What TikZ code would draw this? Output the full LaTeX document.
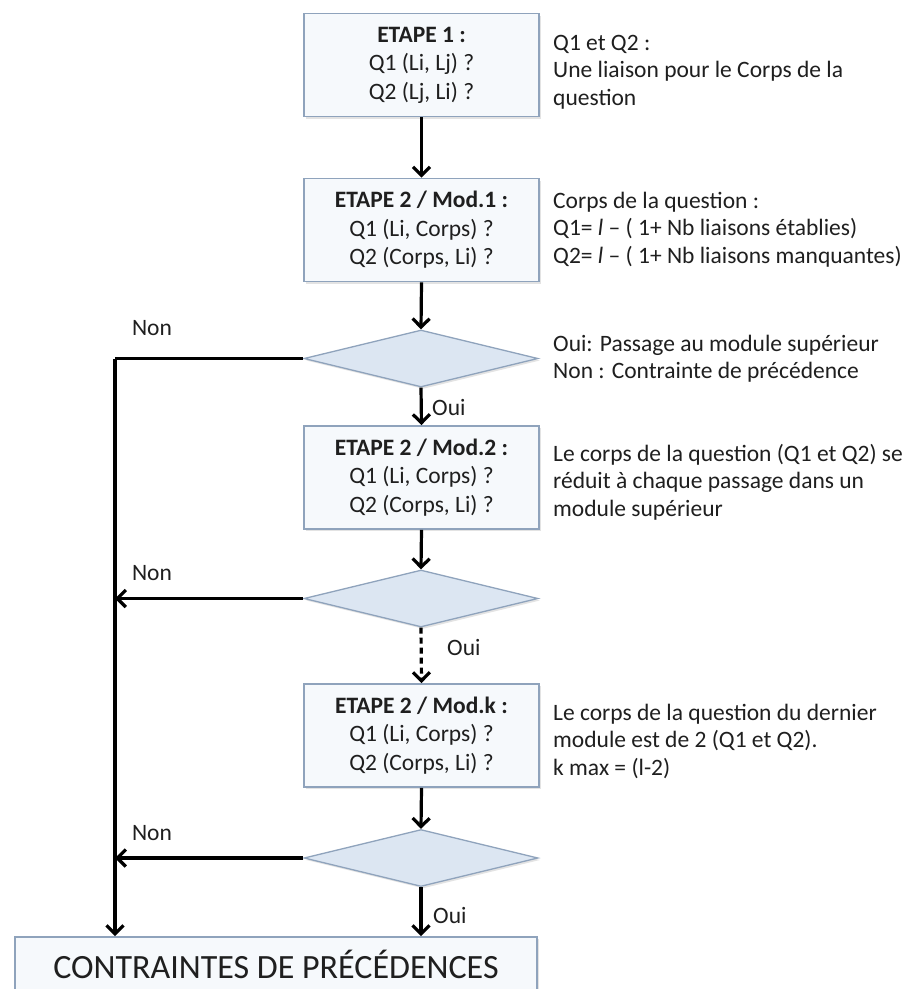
\documentclass[tikz,border=0pt]{standalone}
\usepackage{fontspec}
\setmainfont{Carlito}
\usetikzlibrary{arrows.meta,shapes.geometric,shadows}
\definecolor{boxfill}{HTML}{F6F9FC}
\definecolor{boxline}{HTML}{8FA3BC}
\definecolor{diafill}{HTML}{DCE6F2}
\definecolor{ink}{HTML}{1F1F1F}
\newcommand{\bodyfont}{\fontsize{23.5}{27.5}\selectfont}
\newcommand{\boxfont}{\fontsize{23.5}{28.5}\selectfont}

\begin{document}
\begin{tikzpicture}[x=1pt,y=-1pt,
  softshadow/.style={drop shadow={opacity=0.22,shadow xshift=2pt,shadow yshift=-2pt}},
  stepbox/.style={draw=boxline,line width=1.9pt,fill=boxfill,softshadow,
    minimum width=235pt,minimum height=103pt,inner sep=0pt,align=center,
    font=\boxfont,text=ink},
  testdia/.style={diamond,draw=boxline,line width=1.3pt,fill=diafill,softshadow,
    minimum width=234pt,minimum height=57pt,inner sep=0pt},
  endbox/.style={draw=boxline,line width=1.9pt,fill=boxfill,softshadow,
    minimum width=522pt,minimum height=60pt,inner sep=0pt,
    font=\fontsize{34}{40}\selectfont,text=ink,text height=22pt,text depth=0pt},
  note/.style={anchor=north west,inner sep=0pt,align=left,font=\bodyfont,text=ink},
  lbl/.style={inner sep=0pt,font=\bodyfont,text=ink},
  flow/.style={line width=3.2pt,black,-{Straight Barb[length=8.5pt,width=17pt]}},
  plain/.style={line width=3.2pt,black}]

\useasboundingbox (0,0) rectangle (909,989);
\fill[white] (0,0) rectangle (909,989);

% main column of steps and tests
\node[stepbox] (s1) at (421.5,65) {\textbf{ETAPE 1 :}\\Q1 (Li, Lj) ?\\Q2 (Lj, Li) ?};
\node[stepbox] (s2) at (421.5,230) {\textbf{ETAPE 2 / Mod.1 :}\\Q1 (Li, Corps) ?\\Q2 (Corps, Li) ?};
\node[testdia] (d1) at (421,358.5) {};
\node[stepbox] (s3) at (421.5,477.5) {\textbf{ETAPE 2 / Mod.2 :}\\Q1 (Li, Corps) ?\\Q2 (Corps, Li) ?};
\node[testdia] (d2) at (421,598.5) {};
\node[stepbox] (s4) at (421.5,735.5) {\textbf{ETAPE 2 / Mod.k :}\\Q1 (Li, Corps) ?\\Q2 (Corps, Li) ?};
\node[testdia] (d3) at (421,858) {};
\node[endbox] (fin) at (276,967) {CONTRAINTES DE PRÉCÉDENCES};

% vertical flow
\draw[flow] (s1.south) -- (s2.north);
\draw[flow] (s2.south) -- (d1.north);
\draw[flow] (d1.south) -- (s3.north);
\draw[flow] (s3.south) -- (d2.north);
\draw[flow,dash pattern=on 6pt off 4pt] (d2.south) -- (s4.north);
\draw[flow] (s4.south) -- (d3.north);
\draw[flow] (d3.south) -- (d3.south |- fin.north);

% the "Non" branch on the left
\coordinate (c1) at (115,358.5);
\draw[plain] (d1.west) -- (c1);
\draw[flow] (c1) -- (c1 |- fin.north);
\draw[flow] (d2.west) -- (d2.west -| c1);
\draw[flow] (d3.west) -- (d3.west -| c1);

% branch labels
\node[lbl] (n1) at (152,328) {Non};
\node[lbl] (n2) at (152,573) {Non};
\node[lbl] (n3) at (152,833) {Non};
\node[lbl,anchor=west] (o1) at (432,407) {Oui};
\node[lbl,anchor=west] (o2) at (447,647) {Oui};
\node[lbl,anchor=west] (o3) at (433,915) {Oui};

% explanations on the right
\node[note] (t1) at (553,31) {\strut Q1 et Q2 :\\Une liaison pour le Corps de la\\question};
\node[note] (t2) at (553,189) {\strut Corps de la question :\\Q1= \textit{l} – ( 1+ Nb liaisons établies)\\Q2= \textit{l} – ( 1+ Nb liaisons manquantes)};
\node[note] (t3) at (553,332) {\strut Oui: Passage au module supérieur\\Non : Contrainte de précédence};
\node[note] (t4) at (553,442) {\strut Le corps de la question (Q1 et Q2) se\\réduit à chaque passage dans un\\module supérieur};
\node[note] (t5) at (553,701) {\strut Le corps de la question du dernier\\module est de 2 (Q1 et Q2).\\k max = (l-2)};
\end{tikzpicture}
\end{document}
